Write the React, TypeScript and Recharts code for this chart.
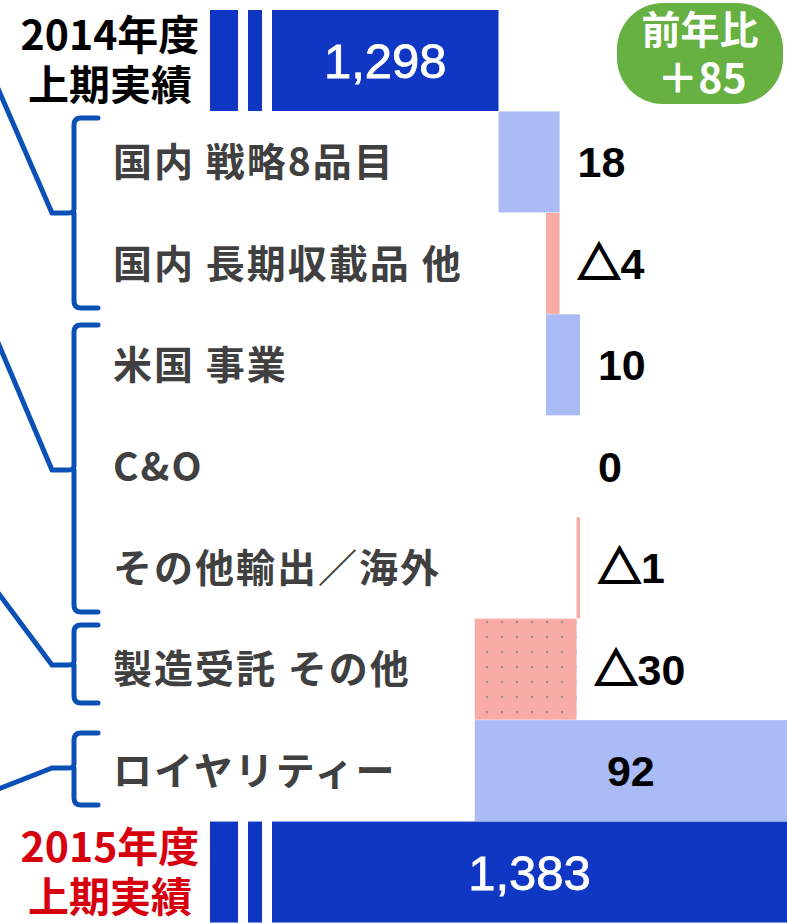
import React from 'react';
import { BarChart, Bar, XAxis, YAxis } from 'recharts';

const categories = [
  '2014年度\n上期実績',
  '国内 戦略8品目',
  '国内 長期収載品 他',
  '米国 事業',
  'C&O',
  'その他輸出／海外',
  '製造受託 その他',
  'ロイヤリティー',
  '2015年度\n上期実績',
];
const startTotal = 1298;
const endTotal = 1383;
const deltas = [18, -4, 10, 0, -1, -30, 92];
const yoyChange = 85;

const AXIS_MIN = 1213;
const AXIS_MAX = 1383;

const DARK_BLUE = '#0f37c4';
const LIGHT_BLUE = '#aabbf6';
const PINK = '#f9aba6';
const LABEL_GRAY = '#404040';
const BRACE_BLUE = '#0a50b6';

type Row = {
  name: string;
  range: [number, number];
  kind: 'total' | 'up' | 'down';
  delta: number;
  label: string;
  dotted?: boolean;
};

const fmt = (n: number) => n.toLocaleString('en-US');

const buildRows = (): Row[] => {
  const rows: Row[] = [];
  rows.push({ name: categories[0], range: [AXIS_MIN, startTotal], kind: 'total', delta: 0, label: fmt(startTotal) });
  let cum = startTotal;
  deltas.forEach((d, i) => {
    const next = cum + d;
    rows.push({
      name: categories[i + 1],
      range: [Math.min(cum, next), Math.max(cum, next)],
      kind: d < 0 ? 'down' : 'up',
      delta: d,
      label: `${Math.abs(d)}`,
      dotted: i === 5,
    });
    cum = next;
  });
  rows.push({ name: categories[8], range: [AXIS_MIN, endTotal], kind: 'total', delta: 0, label: fmt(endTotal) });
  return rows;
};

const data = buildRows();

const NUM_FONT = "'Liberation Sans', 'Noto Sans CJK JP', sans-serif";
const JP_FONT = "'Noto Sans CJK JP', sans-serif";

const BarShape = (props: any) => {
  const { x, y, width, height, payload } = props;
  const row: Row = payload;
  const cy = y + height / 2;
  if (row.kind === 'total') {
    const mainStart = x + 62;
    return (
      <g>
        <rect x={x} y={y} width={width} height={height} fill={DARK_BLUE} />
        <rect x={x + 28} y={y - 1} width={10} height={height + 2} fill="#fff" />
        <rect x={x + 52} y={y - 1} width={10} height={height + 2} fill="#fff" />
        <text
          x={(mainStart + x + width) / 2}
          y={cy}
          dy="0.36em"
          textAnchor="middle"
          fill="#fff"
          fontSize={49}
          fontFamily={NUM_FONT}
          stroke="#fff"
          strokeWidth={0.8}
        >
          {row.label}
        </text>
      </g>
    );
  }
  const inside = width > 150;
  return (
    <g>
      <defs>
        <pattern id="dots" width="15" height="15" patternUnits="userSpaceOnUse">
          <rect width="15" height="15" fill={PINK} />
          <circle cx="7" cy="7" r="1.3" fill="#a08c8c" />
        </pattern>
      </defs>
      {width > 0 && (
        <rect
          x={x}
          y={y}
          width={width}
          height={height}
          fill={row.dotted ? 'url(#dots)' : row.kind === 'up' ? LIGHT_BLUE : PINK}
        />
      )}
      <text
        x={inside ? x + width / 2 : x + width + 18}
        y={cy}
        dy="0.36em"
        textAnchor={inside ? 'middle' : 'start'}
        fill="#000"
        fontSize={43}
        fontWeight="bold"
        fontFamily={NUM_FONT}
      >
        {row.delta < 0 && (
          <tspan fontFamily={JP_FONT} stroke="#000" strokeWidth={2.2}>
            △
          </tspan>
        )}
        {row.label}
      </text>
    </g>
  );
};

const CategoryTick = (props: any) => {
  const { y, payload } = props;
  const name: string = payload.value;
  if (name.includes('\n')) {
    const [l1, l2] = name.split('\n');
    const color = name.startsWith('2015') ? '#d7000f' : '#000';
    return (
      <g>
        <text x={110} y={y - 25} dy="0.36em" textAnchor="middle" fill={color} fontSize={41} fontWeight="bold" fontFamily={JP_FONT}>
          {l1}
        </text>
        <text x={110} y={y + 25} dy="0.36em" textAnchor="middle" fill={color} fontSize={41} fontWeight="bold" fontFamily={JP_FONT}>
          {l2}
        </text>
      </g>
    );
  }
  return (
    <text
      x={113}
      y={y}
      dy="0.36em"
      textAnchor="start"
      fill={LABEL_GRAY}
      fontSize={39}
      fontWeight="bold"
      letterSpacing={2}
      fontFamily={JP_FONT}
    >
      {name}
    </text>
  );
};

// brace decorations at the left edge
const braces = [
  { top: 118, bottom: 308, mid: 213, fromY: 84 },
  { top: 325, bottom: 612, mid: 470, fromY: 338 },
  { top: 625, bottom: 703, mid: 665, fromY: 590 },
  { top: 733, bottom: 805, mid: 768, fromY: 790 },
];

const bracePath = (b: { top: number; bottom: number; mid: number; fromY: number }) =>
  `M 98 ${b.top} H 81 Q 74 ${b.top} 74 ${b.top + 7} V ${b.mid - 4} Q 74 ${b.mid} 68 ${b.mid} H 52 ` +
  `M 74 ${b.mid} V ${b.bottom - 7} Q 74 ${b.bottom} 81 ${b.bottom} H 98 ` +
  `M 52 ${b.mid} L -4 ${b.fromY}`;

export default function App() {
  return (
    <div style={{ position: 'absolute', left: 0, top: 0, width: 787, height: 923, background: '#fff' }}>
      <BarChart
        width={787}
        height={923}
        data={data}
        layout="vertical"
        barCategoryGap={0}
        margin={{ top: 10, right: 0, bottom: 0, left: 0 }}
      >
        <XAxis type="number" domain={[AXIS_MIN, AXIS_MAX]} allowDataOverflow hide />
        <YAxis
          type="category"
          dataKey="name"
          width={210}
          axisLine={false}
          tickLine={false}
          tick={<CategoryTick />}
          interval={0}
        />
        <Bar dataKey="range" isAnimationActive={false} shape={<BarShape />} />
      </BarChart>
      <svg
        width={787}
        height={923}
        style={{ position: 'absolute', left: 0, top: 0, pointerEvents: 'none' }}
      >
        {braces.map((b, i) => (
          <path key={i} d={bracePath(b)} fill="none" stroke={BRACE_BLUE} strokeWidth={5} strokeLinecap="round" strokeLinejoin="round" />
        ))}
        <rect x={617} y={3} width={166} height={101} rx={46} fill="#66b142" />
        <text x={700} y={30} dy="0.36em" textAnchor="middle" fill="#fff" fontSize={39} fontWeight="bold" fontFamily={JP_FONT}>
          前年比
        </text>
        <text x={702} y={78} dy="0.36em" textAnchor="middle" fill="#fff" fontSize={41} fontWeight="bold" fontFamily={JP_FONT}>
          {`＋${yoyChange}`}
        </text>
      </svg>
    </div>
  );
}
